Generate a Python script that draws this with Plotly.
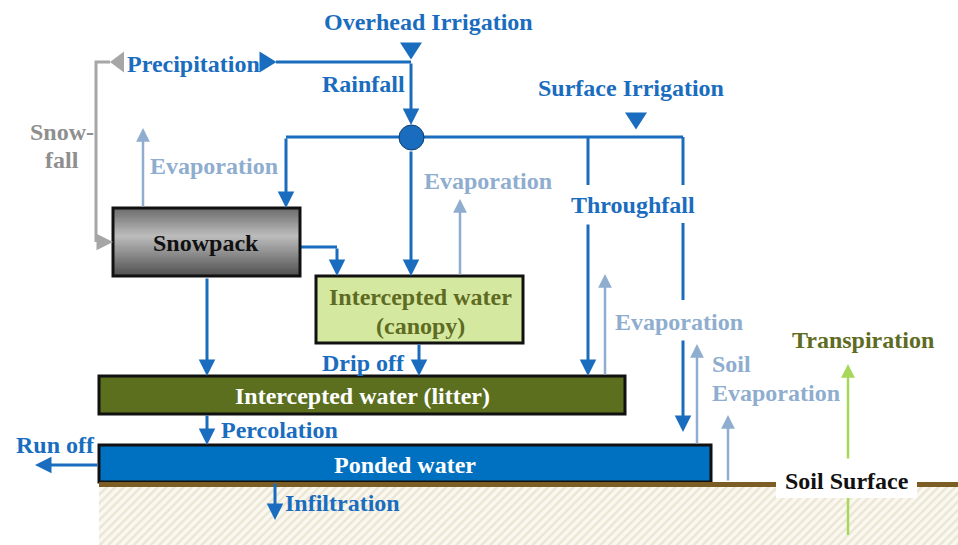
import numpy as np
import plotly.graph_objects as go

W, H = 958, 545
FONT = "Liberation Serif"
FS = 24

BLUE = "#1A6DBE"
LIGHT = "#8EADCF"
GRAY = "#A6A6A6"
OLIVE_TXT = "#5E6B22"

# ---------------- compartments (boxes) ----------------
box_x0 = [113, 316, 99, 99]
box_x1 = [300, 523, 625, 711]
box_y0 = [208, 276, 376, 445]
box_y1 = [276, 343, 414, 482]
box_fill = ["rgba(0,0,0,0)", "#D5E8A0", "#5B6F1E", "#0070C0"]

# ---------------- text labels ----------------
lbl_text = ["Overhead Irrigation", "Precipitation", "Rainfall", "Surface Irrigation",
            "Snow-", "fall", "Evaporation", "Evaporation", "Throughfall", "Evaporation",
            "Soil", "Evaporation", "Transpiration", "Snowpack", "Intercepted water",
            "(canopy)", "Drip off", "Intercepted water (litter)", "Percolation",
            "Run off", "Ponded water", "Infiltration", "Soil Surface"]
lbl_x = [428, 125, 407, 631, 62, 62, 148, 422, 633, 613, 710, 710, 863, 206, 420,
         420, 407, 362, 219, 55, 405, 283, 847]
lbl_y = [22, 64, 84, 88, 132, 160, 166, 181, 205, 322, 364, 393, 340, 243, 297,
         326, 363, 396, 430, 445, 465, 503, 481]
lbl_anchor = ["center", "left", "right", "center", "center", "center", "left", "left",
              "center", "left", "left", "left", "center", "center", "center", "center",
              "right", "center", "left", "center", "center", "left", "center"]
lbl_color = [BLUE, BLUE, BLUE, BLUE, "#8F8F8F", "#8F8F8F", LIGHT, LIGHT, BLUE, LIGHT,
             LIGHT, LIGHT, OLIVE_TXT, "#111111", OLIVE_TXT, OLIVE_TXT, BLUE, "#FFFFFF",
             BLUE, BLUE, "#FFFFFF", BLUE, "#111111"]

# ---------------- flows ----------------
seg_pts = [
    [(276, 62), (411, 62)],
    [(286, 137), (683, 137)],
    [(588, 137), (588, 185)],
    [(683, 137), (683, 185)],
    [(683, 223), (683, 300)],
    [(300, 247), (337, 247)],
    [(110, 62), (96, 62), (96, 242)],
    [(848, 535), (848, 498)],
]
seg_color = [BLUE, BLUE, BLUE, BLUE, BLUE, BLUE, GRAY, "#A8D85A"]
seg_width = [3, 3, 3, 3, 3, 3, 3, 2.5]

arr_tail = [(411, 62), (286, 137), (411, 150), (588, 223), (683, 339), (337, 247),
            (207, 277), (419, 343), (207, 414), (99, 465), (275, 482), (96, 242),
            (143, 208), (460, 276), (605, 376), (697, 445), (728, 482), (848, 460)]
arr_head = [(411, 125), (286, 208), (411, 276), (588, 376), (683, 432), (337, 276),
            (207, 376), (419, 376), (207, 445), (35, 465), (275, 520), (113, 242),
            (143, 128), (460, 199), (605, 274), (697, 344), (728, 415), (848, 364)]
arr_color = [BLUE] * 11 + [GRAY] + [LIGHT] * 5 + ["#A8D85A"]
arr_width = [3] * 12 + [2.5] * 6

tri_dir = ["down", "down", "right", "left"]
tri_cx = [411, 636, 268, 117]
tri_cy = [51, 121, 62, 62]
tri_col = [BLUE, BLUE, BLUE, GRAY]

fig = go.Figure()

fig.add_trace(go.Scatter(
    x=[99, 958, 958, 99, 99], y=[487, 487, 545, 545, 487], mode="lines",
    fill="toself", line=dict(width=0), hoverinfo="skip", showlegend=False,
    fillcolor="#F8F5EC",
    fillpattern=dict(shape="/", fgcolor="#DCD2B6", bgcolor="#FAF8F0", size=6, solidity=0.4),
))

n = 40
fig.add_trace(go.Heatmap(
    z=[[i] for i in range(n)], x=[box_x0[0], box_x1[0]],
    y=list(np.linspace(box_y0[0], box_y1[0], n + 1)),
    colorscale=[[0, "#6e6e6e"], [0.4, "#bdbdbd"], [1, "#505050"]],
    showscale=False, hoverinfo="skip", zsmooth="best",
))

shapes = []
for pts, c, w in zip(seg_pts, seg_color, seg_width):
    path = "M" + " L".join(f"{x},{y}" for x, y in pts)
    shapes.append(dict(type="path", path=path, line=dict(color=c, width=w), xref="x", yref="y"))

for x0, x1, y0, y1, f in zip(box_x0, box_x1, box_y0, box_y1, box_fill):
    shapes.append(dict(type="rect", x0=x0, x1=x1, y0=y0, y1=y1, fillcolor=f,
                       line=dict(color="#111111", width=3), xref="x", yref="y"))

shapes.append(dict(type="rect", x0=99, x1=958, y0=482, y1=487, fillcolor="#7C5D24",
                   line=dict(width=0), xref="x", yref="y"))
shapes.append(dict(type="rect", x0=776, x1=917, y0=460, y1=498, fillcolor="#FFFFFF",
                   line=dict(width=0), xref="x", yref="y"))

for d, cx, cy, c in zip(tri_dir, tri_cx, tri_cy, tri_col):
    if d == "down":
        p = f"M{cx-11},{cy-8.5} L{cx+11},{cy-8.5} L{cx},{cy+8.5} Z"
    elif d == "right":
        p = f"M{cx-8.5},{cy-10.5} L{cx-8.5},{cy+10.5} L{cx+8.5},{cy} Z"
    else:
        p = f"M{cx+7},{cy-10.5} L{cx+7},{cy+10.5} L{cx-7},{cy} Z"
    shapes.append(dict(type="path", path=p, fillcolor=c, line=dict(width=0), xref="x", yref="y"))

shapes.append(dict(type="circle", x0=399, x1=424, y0=125, y1=150, fillcolor=BLUE,
                   line=dict(color="#0D3D6E", width=1), xref="x", yref="y"))

annotations = []
for (tx, ty), (hx, hy), c, w in zip(arr_tail, arr_head, arr_color, arr_width):
    annotations.append(dict(x=hx, y=hy, ax=tx, ay=ty, xref="x", yref="y", axref="x", ayref="y",
                            text="", showarrow=True, arrowhead=2, arrowsize=1.1,
                            arrowwidth=w, arrowcolor=c, standoff=0))
for t, x, y, a, c in zip(lbl_text, lbl_x, lbl_y, lbl_anchor, lbl_color):
    annotations.append(dict(x=x, y=y, xref="x", yref="y", text=f"<b>{t}</b>", showarrow=False,
                            xanchor=a, yanchor="middle",
                            font=dict(family=FONT, size=FS, color=c)))

fig.update_layout(
    width=W, height=H, margin=dict(l=0, r=0, t=0, b=0),
    paper_bgcolor="white", plot_bgcolor="white",
    xaxis=dict(range=[0, W], visible=False, fixedrange=True),
    yaxis=dict(range=[H, 0], visible=False, fixedrange=True),
    shapes=shapes, annotations=annotations, showlegend=False,
)
fig.write_html("out.html", config={"displayModeBar": False},
               post_script="document.body.style.margin='0';document.body.style.overflow='hidden';")
